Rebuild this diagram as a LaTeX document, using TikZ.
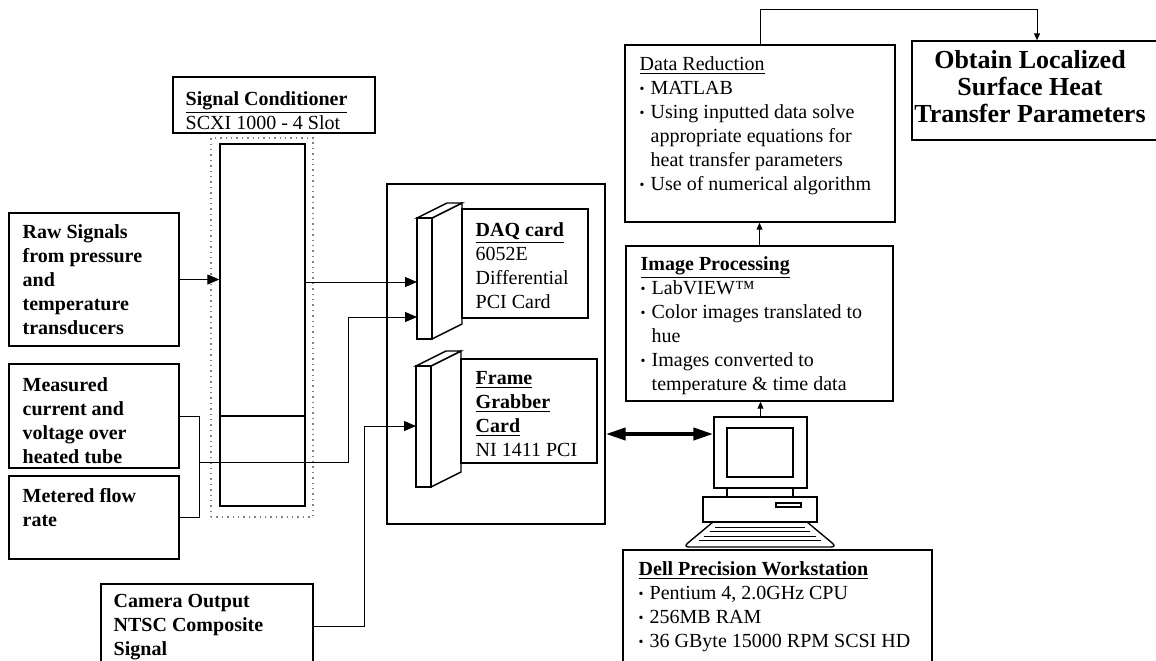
\documentclass[tikz,border=0pt]{standalone}
\usepackage{fontspec}
\setmainfont{Liberation Serif}
\usetikzlibrary{arrows.meta,fit}

\newcommand{\bul}{\makebox[5.5pt][l]{\raisebox{0.4pt}{\fontsize{7}{7}\selectfont\textbullet}}}
\newcommand{\hang}{\hspace*{5.5pt}}

\begin{document}
\begin{tikzpicture}[x=0.5pt, y=-0.5pt, line width=0.7pt,
	box/.style={draw, inner sep=0pt, fill=white},
	txt/.style={inner sep=0pt, anchor=north west, align=left, font=\fontsize{10}{12}\selectfont},
	btxt/.style={txt, font=\fontsize{10}{12}\selectfont\bfseries},
	arr/.style={-{Triangle[length=6pt,width=5pt]}, line width=0.5pt},
	sarr/.style={-{Triangle[length=3.5pt,width=3pt]}, line width=0.5pt},
	wire/.style={line width=0.5pt}]

	\path[use as bounding box, clip] (0,0) rectangle (1156,660);

	% signal conditioner
	\node[box, fit={(173,77) (375,133)}] (sigc) {};
	\node[txt] (sigctxt) at (185,91) {\underline{\textbf{Signal Conditioner}}\\SCXI 1000 - 4 Slot};
	\node[draw, dotted, gray, inner sep=0pt, fit={(211,138) (313,517)}] (sigout) {};
	\node[box, fit={(220,144) (305,506)}] (sigin) {};
	\coordinate (dv) at (0,416);
	\draw (sigin.west |- dv) -- (sigin.east |- dv);

	% inputs
	\node[box, fit={(9,213) (179,346)}] (raw) {};
	\node[btxt] (rawtxt) at (22,224) {Raw Signals\\from pressure\\and\\temperature\\transducers};
	\node[box, fit={(9,364) (179,468)}] (meas) {};
	\node[btxt] (meastxt) at (22,377) {Measured\\current and\\voltage over\\heated tube};
	\node[box, fit={(9,476) (179,559)}] (meter) {};
	\node[btxt] (metertxt) at (22,488) {Metered flow\\rate};
	\node[box, fit={(101,584) (313,668)}] (cam) {};
	\node[btxt] (camtxt) at (113,594) {Camera Output\\NTSC Composite\\Signal};

	% PC chassis with the two cards
	\node[box, fit={(387,184) (605,524)}] (encl) {};
	\foreach \cx/\cy in {417/218, 416/366} {
		\draw[fill=white] (\cx+15,\cy) -- ++(30,-15) -- ++(0,121) -- (\cx+15,\cy+121) -- cycle;
		\draw[fill=white] (\cx,\cy) -- ++(30,-15) -- ++(15,0) -- (\cx+15,\cy) -- cycle;
		\draw[fill=white] (\cx,\cy) rectangle (\cx+15,\cy+121);
	}
	\coordinate (daqa) at (417,282);
	\coordinate (daqb) at (417,317);
	\coordinate (fga) at (416,426);
	\node[box, fit={(462,209) (588,318)}] (daq) {};
	\node[txt] (daqtxt) at (475,222) {\underline{\textbf{DAQ card}}\\6052E\\Differential\\PCI Card};
	\node[box, fit={(461,359) (597,463)}] (fg) {};
	\node[txt] (fgtxt) at (475,371) {\underline{\textbf{Frame}}\\\underline{\textbf{Grabber}}\\\underline{\textbf{Card}}\\NI 1411 PCI};

	% wiring
	\draw[arr] (raw.east) -- (raw.east -| sigin.west);
	\draw[arr] (sigin.east |- daqa) -- (daqa);
	\draw[wire] (meas.east) -- ++(20,0) coordinate (j1) |- (meter.east);
	\coordinate (j2) at (0,462);
	\draw[arr] (j1 |- j2) -| (348,317) -- (daqb);
	\draw[arr] (cam.east) -| (364,426) -- (fga);

	% workstation
	\node[box, fit={(714,417) (807,488)}] (monitor) {};
	\node[box, fit={(727,428) (793,477)}] (screen) {};
	\draw (727,488) -- (727,497) (793,488) -- (793,497);
	\node[box, fit={(703,497) (817,522)}] (base) {};
	\node[box, fit={(776,503) (801,507)}] (slot) {};
	\draw[rounded corners=3pt] (713,522) -- (683,547) -- (837,547) -- (807,522);
	\foreach \k in {0,1,2,3}
		\draw[wire] (715-5.4*\k,527+4.5*\k) -- (805+5.4*\k,527+4.5*\k);

	\coordinate (lk) at (0,434);
	\draw[{Triangle[length=10pt,width=6pt]}-{Triangle[length=10pt,width=6pt]}, line width=2pt]
		(encl.east |- lk) -- (monitor.west |- lk);

	\node[box, fit={(623,550) (932,668)}] (dell) {};
	\node[txt] (delltxt) at (638,561) {\underline{\textbf{Dell Precision Workstation}}\\\bul Pentium 4, 2.0GHz CPU\\\bul 256MB RAM\\\bul 36 GByte 15000 RPM SCSI HD};

	% processing chain
	\node[box, fit={(626,246) (893,401)}] (ip) {};
	\node[txt] (iptxt) at (640,256) {\underline{\textbf{Image Processing}}\\\bul LabVIEW™\\\bul Color images translated to\\\hang hue\\\bul Images converted to\\\hang temperature \& time data};
	\node[box, fit={(625,45) (895,222)}] (dr) {};
	\node[txt] (drtxt) at (639,56) {\underline{Data Reduction}\\\bul MATLAB\\\bul Using inputted data solve\\\hang appropriate equations for\\\hang heat transfer parameters\\\bul Use of numerical algorithm};
	\node[box, fit={(912,41) (1162,140)}] (obt) {};
	\node[inner sep=0pt, anchor=north, align=center, font=\fontsize{13}{13.5}\selectfont\bfseries] (obttxt) at (1030,50) {Obtain Localized\\Surface Heat\\Transfer Parameters};

	\draw[sarr] (monitor.north) -- (monitor.north |- ip.south);
	\draw[sarr] (ip.north) -- (ip.north |- dr.south);
	\draw[sarr] (dr.north) -- ++(0,-35) -| (obt.north);
\end{tikzpicture}
\end{document}
